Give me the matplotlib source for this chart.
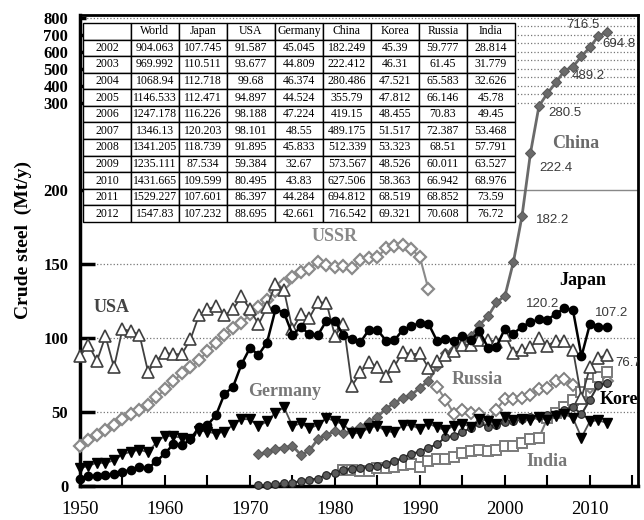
import numpy as np
import matplotlib
matplotlib.use('Agg')
import matplotlib.pyplot as plt
from matplotlib.ticker import MultipleLocator

plt.rcParams['font.family'] = 'Liberation Serif'

# crude steel production, Mt/y
usa_years = list(range(1950, 2013))
usa = [87.8, 95.4, 84.5, 101.2, 80.1, 106.1, 104.5, 102.2, 77.3, 84.7,
       90.1, 88.9, 89.2, 99.1, 115.3, 119.3, 121.6, 115.4, 119.3, 128.2,
       119.3, 109.2, 120.8, 136.8, 132.2, 105.8, 116.1, 113.7, 124.3, 123.6,
       101.4, 109.6, 67.7, 76.7, 83.9, 80.1, 74.0, 80.9, 90.6, 88.8,
       89.7, 79.7, 84.3, 88.8, 91.2, 95.2, 95.5, 98.5, 98.7, 97.4,
       101.8, 90.1, 91.587, 93.677, 99.68, 94.897, 98.188, 98.101, 91.895, 59.384,
       80.495, 86.397, 88.695]

japan_years = list(range(1950, 2013))
japan = [4.8, 6.5, 7.0, 7.7, 7.8, 9.4, 11.1, 12.6, 12.1, 16.6,
         22.1, 28.3, 27.5, 31.5, 39.8, 41.2, 47.8, 62.2, 66.9, 82.2,
         93.3, 88.6, 96.9, 119.3, 117.1, 102.3, 107.4, 102.4, 102.1, 111.7,
         111.4, 101.7, 99.5, 97.2, 105.6, 105.3, 98.3, 98.5, 105.7, 107.9,
         110.3, 109.6, 98.1, 99.6, 98.3, 101.6, 98.8, 104.5, 93.5, 94.2,
         106.4, 102.9, 107.745, 110.511, 112.718, 112.471, 116.226, 120.203, 118.739, 87.534,
         109.599, 107.601, 107.232]

germany_years = list(range(1950, 2013))
germany = [12.1, 13.5, 15.8, 15.4, 17.4, 21.3, 23.2, 24.5, 22.8, 29.4,
           34.1, 33.5, 32.6, 31.6, 37.3, 36.8, 35.3, 36.7, 41.2, 45.3,
           45.0, 40.3, 43.7, 49.5, 53.2, 40.4, 42.4, 39.0, 41.3, 46.0,
           43.8, 41.6, 35.9, 35.7, 39.4, 40.5, 37.1, 36.2, 41.0, 41.1,
           38.4, 42.2, 39.7, 37.6, 40.8, 42.1, 39.8, 45.0, 44.0, 42.1,
           46.4, 44.8, 45.045, 44.809, 46.374, 44.524, 47.224, 48.55, 45.833, 32.67,
           43.83, 44.284, 42.661]

ussr_years = list(range(1950, 1992))
ussr = [27.3, 31.4, 34.5, 38.1, 41.4, 45.3, 48.7, 51.2, 54.9, 60.0,
        65.3, 70.8, 76.3, 80.2, 85.0, 91.0, 96.9, 102.2, 106.5, 110.3,
        115.9, 120.6, 125.6, 131.5, 136.2, 141.3, 144.8, 146.7, 151.5, 149.1,
        147.9, 148.5, 147.2, 152.5, 154.2, 154.7, 160.6, 161.9, 163.0, 160.1,
        154.4, 132.8]

russia_years = list(range(1992, 2013))
russia = [67.0, 58.3, 48.8, 51.6, 49.3, 48.5, 43.7, 51.5, 59.1, 59.0,
          59.777, 61.45, 65.583, 66.146, 70.83, 72.387, 68.51, 60.011, 66.942, 68.852,
          70.608]

china_years = list(range(1971, 2013))
china = [21.3, 23.0, 25.0, 26.0, 27.0, 21.0, 24.0, 31.8, 34.5, 37.1,
         35.6, 37.2, 40.0, 43.5, 46.8, 52.2, 56.3, 59.4, 61.6, 66.4,
         71.0, 80.9, 89.6, 92.6, 95.4, 101.2, 108.9, 114.6, 124.0, 128.5,
         151.6, 182.249, 222.412, 280.486, 355.79, 419.15, 489.175, 512.339, 573.567, 627.506,
         694.812, 716.542]

korea_years = list(range(1971, 2013))
korea = [0.5, 0.6, 1.2, 1.9, 2.0, 3.5, 4.3, 5.0, 7.6, 8.6,
         10.8, 11.8, 11.9, 13.0, 13.5, 14.6, 16.8, 19.1, 21.9, 23.1,
         26.0, 28.1, 33.0, 33.7, 36.8, 38.9, 42.6, 39.9, 41.0, 43.1,
         43.9, 45.39, 46.31, 47.521, 47.812, 48.455, 51.517, 53.323, 48.526, 58.363,
         68.519, 69.321]

india_years = list(range(1981, 2013))
india = [10.8, 11.0, 10.2, 10.4, 11.9, 12.2, 13.1, 14.3, 14.6, 13.0,
         17.1, 18.1, 18.2, 19.3, 22.0, 23.8, 24.4, 23.5, 24.3, 26.9,
         27.3, 28.814, 31.779, 32.626, 45.78, 49.45, 53.468, 57.791, 63.527, 68.976,
         73.59, 76.72]

world = [904.063, 969.992, 1068.94, 1146.533, 1247.178, 1346.13,
         1341.205, 1235.111, 1431.665, 1529.227, 1547.83]
table_years = list(range(2002, 2013))
table_cols = ['World', 'Japan', 'USA', 'Germany', 'China', 'Korea', 'Russia', 'India']

# y axis: linear up to 200, compressed above
y_knots = [-100, 0, 200, 222.4, 280.5, 800, 1200]
h_knots = [-148, 0, 296, 333, 380, 468, 536]


def fwd(v):
    return np.interp(v, y_knots, h_knots)


def inv(h):
    return np.interp(h, h_knots, y_knots)


fig = plt.figure(figsize=(6.44, 5.2), dpi=100)
ax = fig.add_axes([0.1242, 0.0654, 0.8665, 0.9058])
ax.set_yscale('function', functions=(fwd, inv))
ax.set_xlim(1950, 2015.65)
ax.set_ylim(0, inv(471))

# grid lines
for g in [50, 100, 150]:
    ax.axhline(g, color='#777777', ls=':', lw=0.9, zorder=1)
ax.axhline(200, color='#888888', lw=1.0, zorder=1)
for g in np.arange(300, 801, 50):
    ax.axhline(g, color='#777777', ls=':', lw=0.9, zorder=1)

kw = dict(clip_on=False)
ax.plot(ussr_years, ussr, color='#8a8a8a', lw=1.5, marker='D', ms=6,
        mfc='white', mec='#8a8a8a', mew=1.6, zorder=3, **kw)
ax.plot(russia_years, russia, color='#8a8a8a', lw=1.5, marker='D', ms=6.5,
        mfc='white', mec='#808080', mew=1.4, zorder=3, **kw)
ax.plot(india_years, india, color='#7a7a7a', lw=1.5, marker='s', ms=6.5,
        mfc='white', mec='#7a7a7a', mew=1.4, zorder=3, **kw)
ax.plot(korea_years, korea, color='#333333', lw=1.5, marker='o', ms=5.5,
        mfc='#5a5a5a', mec='#222222', mew=0.8, zorder=4, **kw)
ax.plot(china_years, china, color='#6a6a6a', lw=2, marker='D', ms=5.5,
        mfc='#6a6a6a', mec='#5a5a5a', mew=0.8, zorder=4, **kw)
ax.plot(usa_years, usa, color='#404040', lw=1.3, marker='^', ms=8.5,
        mfc='white', mec='#404040', mew=1.2, zorder=5, **kw)
ax.plot(germany_years, germany, color='#505050', lw=1.3, marker='v', ms=6.5,
        mfc='black', mec='black', zorder=5, **kw)
ax.plot(japan_years, japan, color='black', lw=1.8, marker='o', ms=6,
        mfc='black', mec='black', zorder=6, **kw)

# axes and ticks
yt = [0, 50, 100, 150, 200, 300, 400, 500, 600, 700, 800]
ax.set_yticks(yt)
ax.tick_params(axis='y', direction='in', length=11, width=2.5, pad=8.5, labelsize=12)
for t in ax.yaxis.get_major_ticks()[5:]:
    t.tick1line.set_markersize(4)
for lbl in ax.get_yticklabels():
    lbl.set_fontweight('bold')
ax.xaxis.set_major_locator(MultipleLocator(10))
ax.xaxis.set_minor_locator(MultipleLocator(5))
ax.tick_params(axis='x', which='both', direction='in', length=8, width=1.5,
               pad=11, labelsize=13.5)
for side in ['left', 'bottom']:
    ax.spines[side].set_linewidth(2.5)
for side in ['top', 'right']:
    ax.spines[side].set_linewidth(2)

fig.text(23 / 644, 1 - 240 / 520, 'Crude steel  (Mt/y)', rotation=90,
         ha='center', va='center', fontsize=14, fontweight='bold')

# series names
names = [('China', 0.889, 0.728, '#6a6a6a'), ('USSR', 0.457, 0.529, '#888888'),
         ('USA', 0.057, 0.378, '#444444'), ('Japan', 0.901, 0.437, 'black'),
         ('Germany', 0.367, 0.200, '#777777'), ('Russia', 0.711, 0.227, '#777777'),
         ('India', 0.837, 0.051, '#777777')]
for name, x, y, c in names:
    ax.text(x, y, name, transform=ax.transAxes, ha='center', va='center',
            fontsize=13, fontweight='bold', color=c, zorder=8)
# these two run into the right frame and get cut there
ax.text(0.932, 0.183, 'Korea', transform=ax.transAxes, ha='left', va='center',
        fontsize=13, fontweight='bold', color='black', zorder=8, clip_on=True)
ax.text(0.959, 0.261, '%.1f' % india[-1], transform=ax.transAxes, ha='left',
        va='center', fontsize=9.5, family='Liberation Sans', color='#333333',
        zorder=8, clip_on=True)

# value labels
sans = dict(fontsize=9.5, family='Liberation Sans', color='#3a3a3a', zorder=8)
for yr, dx, dy, ha in [(2002, 10, -3, 'left'), (2003, 6, -11, 'left'),
                       (2004, 7, -5, 'left'), (2007, 5, -4, 'left'),
                       (2011, 3, -6, 'left'), (2012, -5, 5, 'right')]:
    v = china[china_years.index(yr)]
    ax.annotate('%.1f' % v, (yr, v), xytext=(dx, dy), textcoords='offset points',
                ha=ha, va='center', **sans)
for yr, dx, dy, ha in [(2007, -4, 3, 'right'), (2012, 3, 10, 'center')]:
    v = japan[japan_years.index(yr)]
    ax.annotate('%.1f' % v, (yr, v), xytext=(dx, dy), textcoords='offset points',
                ha=ha, va='center', **sans)

# data table for 2002-2012
series = [world, japan[-11:], usa[-11:], germany[-11:], china[-11:],
          korea[-11:], russia[-11:], india[-11:]]
cells = [[str(yr)] + [str(s[i]) for s in series] for i, yr in enumerate(table_years)]
tab = ax.table(cellText=cells, colLabels=[''] + table_cols, cellLoc='center',
               bbox=[0.0054, 0.5605, 0.774, 0.4225], zorder=10)
tab.auto_set_font_size(False)
for (r, c), cell in tab.get_celld().items():
    cell.set_facecolor('white')
    cell.set_edgecolor('black')
    cell.set_linewidth(1.0)
    cell.get_text().set_fontsize(8.5)
    cell.get_text().set_family('Liberation Serif')

fig.savefig('out.png', dpi=100)
